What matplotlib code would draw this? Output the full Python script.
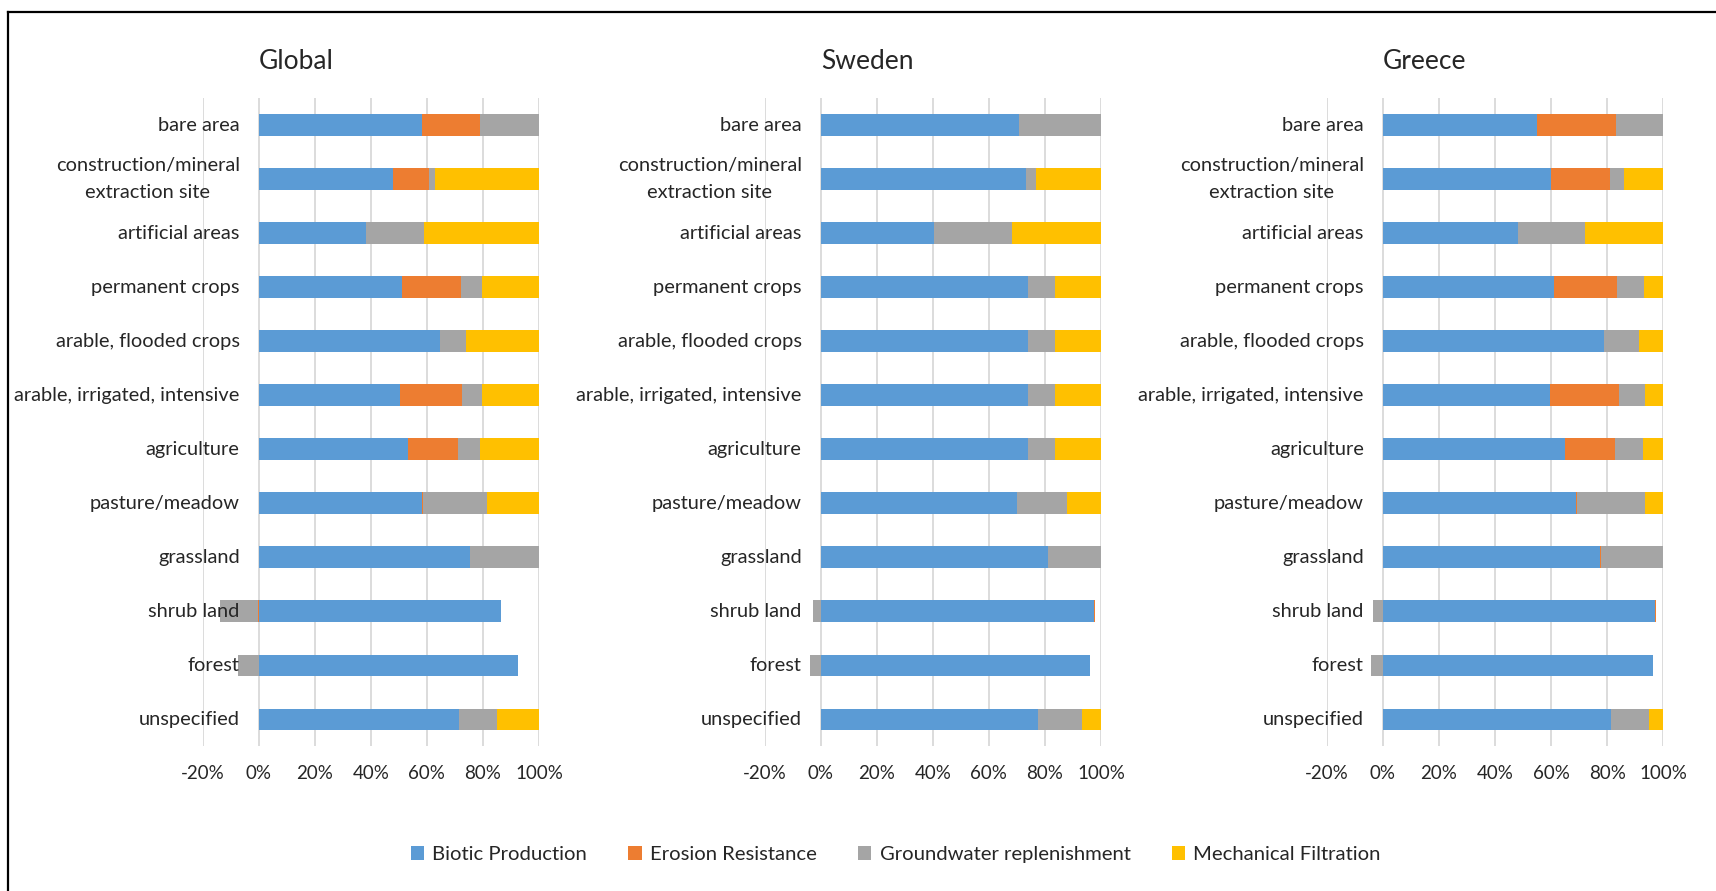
import matplotlib
matplotlib.use('Agg')
import matplotlib.pyplot as plt
import numpy as np
from matplotlib.lines import Line2D
from matplotlib.patches import Patch
from matplotlib.ticker import PercentFormatter

plt.rcParams['font.family'] = ['Lato', 'DejaVu Sans']
plt.rcParams['axes.unicode_minus'] = False

categories = ['bare area', 'construction/mineral\nextraction site', 'artificial areas',
              'permanent crops', 'arable, flooded crops', 'arable, irrigated, intensive',
              'agriculture', 'pasture/meadow', 'grassland', 'shrub land', 'forest',
              'unspecified']
series_names = ['Biotic Production', 'Erosion Resistance',
                'Groundwater replenishment', 'Mechanical Filtration']
colors = ['#5B9BD5', '#ED7D31', '#A5A5A5', '#FFC000']

# share of each service per land cover class, in percent
global_biotic = [58.2, 47.8, 38.4, 51.1, 64.7, 50.4, 53.1, 58.4, 75.3, 86.5, 92.6, 71.3]
global_erosion = [20.8, 12.9, 0, 21.2, 0, 22.3, 17.9, 0.3, 0, -0.3, 0, 0]
global_ground = [21.0, 2.1, 20.5, 7.3, 9.4, 7.1, 8.0, 22.7, 24.7, -13.5, -7.4, 13.8]
global_mech = [0, 37.2, 41.1, 20.4, 25.9, 20.2, 21.0, 18.6, 0, 0, 0, 14.9]

sweden_biotic = [70.8, 73.4, 40.3, 73.8, 73.8, 73.8, 73.8, 69.9, 81.1, 97.5, 96.1, 77.7]
sweden_erosion = [0, 0, 0, 0, 0, 0, 0, 0, 0, 0.3, 0, 0]
sweden_ground = [29.2, 3.3, 27.9, 9.9, 9.9, 9.9, 9.9, 18.0, 18.9, -2.9, -3.9, 15.5]
sweden_mech = [0, 23.3, 31.8, 16.3, 16.3, 16.3, 16.3, 12.1, 0, 0, 0, 6.8]

greece_biotic = [55.0, 60.1, 48.2, 61.0, 78.9, 59.5, 65.1, 68.8, 77.6, 97.1, 96.3, 81.5]
greece_erosion = [28.3, 21.0, 0, 22.7, 0, 24.6, 17.8, 0.3, 0.3, 0.3, 0, 0]
greece_ground = [16.7, 4.9, 23.8, 9.6, 12.5, 9.5, 10.0, 24.5, 22.1, -3.4, -4.1, 13.6]
greece_mech = [0, 14.0, 28.0, 6.7, 8.6, 6.4, 7.1, 6.4, 0, 0, 0, 4.9]

panels = [
    ('Global', [global_biotic, global_erosion, global_ground, global_mech], 0.1181),
    ('Sweden', [sweden_biotic, sweden_erosion, sweden_ground, sweden_mech], 0.4456),
    ('Greece', [greece_biotic, greece_erosion, greece_ground, greece_mech], 0.7732),
]

text_col = '#262626'
fig = plt.figure(figsize=(17.16, 8.91), dpi=100)

y = np.arange(len(categories))[::-1]

for title, series, left in panels:
    ax = fig.add_axes([left, 0.1627, 0.1960, 0.7273])
    pos_base = np.zeros(len(categories))
    neg_base = np.zeros(len(categories))
    for vals, col in zip(series, colors):
        vals = np.array(vals, dtype=float)
        base = np.where(vals >= 0, pos_base, neg_base)
        ax.barh(y, vals, left=base, height=0.39, color=col, zorder=2)
        pos_base += np.where(vals > 0, vals, 0)
        neg_base += np.where(vals < 0, vals, 0)

    ax.set_xlim(-20, 100)
    ax.set_ylim(-0.5, len(categories) - 0.5)
    ax.set_xticks(np.arange(-20, 101, 20))
    ax.xaxis.set_major_formatter(PercentFormatter(100, decimals=0))
    ax.grid(axis='x', color='#d9d9d9', linewidth=1.3, zorder=0)
    ax.set_axisbelow(True)
    ax.tick_params(axis='x', length=0, pad=14, labelsize=13.5, labelcolor=text_col)
    ax.set_yticks([])
    for s in ax.spines.values():
        s.set_visible(False)

    for yi, cat in zip(y, categories):
        ax.annotate(cat, xy=(0, yi), xytext=(-19, 0), textcoords='offset pixels',
                    ha='right', va='center', multialignment='center',
                    fontsize=14.4, color=text_col, zorder=5, linespacing=1.7)

    ax.annotate(title, xy=(0, 1), xycoords=('data', 'axes fraction'), xytext=(0, 37),
                textcoords='offset pixels', ha='left', va='center',
                fontsize=19, color=text_col)

handles = [Patch(facecolor=c, edgecolor='none') for c in colors]
fig.legend(handles, series_names, loc='center', bbox_to_anchor=(0.522, 0.041),
           ncol=4, frameon=False, fontsize=14.6, handlelength=0.65, handleheight=0.65,
           handletextpad=0.4, columnspacing=2.05, labelcolor=text_col)

# frame lines along the top and left edge
fig.add_artist(Line2D([8 / 1716, 8 / 1716], [0, 1 - 12 / 891], color='black', linewidth=1.6))
fig.add_artist(Line2D([8 / 1716, 1], [1 - 12 / 891, 1 - 12 / 891], color='black', linewidth=1.6))

fig.savefig('out.png', dpi=100, facecolor='white')
